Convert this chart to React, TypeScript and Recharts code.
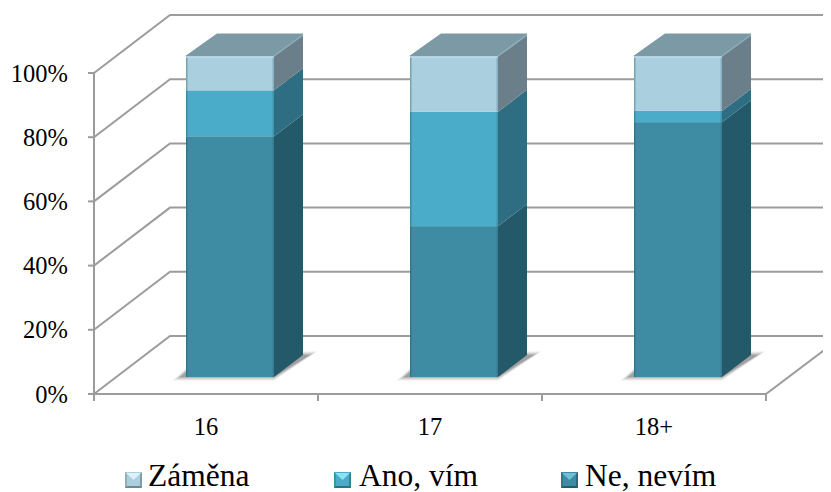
import { Bar, BarChart, CartesianGrid, Legend, XAxis, YAxis } from "recharts";

const ages = ["16", "17", "18+"];
const neNevim = [75.0, 47.0, 79.4];
const anoVim = [14.3, 35.6, 3.5];
const zamena = [10.7, 17.4, 17.1];
const percentTicks = [0, 20, 40, 60, 80, 100];

const rows = ages.map((age, i) => ({
  age,
  ne: neNevim[i],
  ano: anoVim[i],
  zam: zamena[i],
}));

const AXIS = "#9c9c9c";

// depth of the chart box, and of each column inside it
const WALL_DX = 76;
const WALL_DY = 58;
const SHIFT_X = 24;
const SHIFT_Y = 17;
const BOX_DX = 29;
const BOX_DY = 22;

const palette = {
  ne: { front: "#3e8ba4", side: "#24596a", light: "#6fc0d6" },
  ano: { front: "#4aacc8", side: "#2f6e82", light: "#86e4f4" },
  zam: { front: "#aacfdf", side: "#6b7f8a", light: "#dcf2f8" },
};

type Colors = { front: string; side: string };

// floor shadow: nested translucent outlines, wider ones fainter
const shadowSteps = [
  { spread: 8, opacity: 0.06 },
  { spread: 6, opacity: 0.1 },
  { spread: 4, opacity: 0.14 },
  { spread: 2, opacity: 0.18 },
  { spread: 0, opacity: 0.24 },
];

function makeColumn(colors: Colors, base: boolean, cap: boolean) {
  return function Column(props: any) {
    const { height, width } = props;
    const x = props.x + SHIFT_X;
    const y = props.y - SHIFT_Y;
    const right = x + width;
    const bottom = y + height;
    return (
      <g>
        {base &&
          shadowSteps.map((s) => (
            <polygon
              key={s.spread}
              points={`${x - 6 - s.spread},${bottom + s.spread / 2} ${right},${bottom + s.spread / 2} ${right + BOX_DX + 7 + s.spread},${bottom - BOX_DY - s.spread / 2} ${right},${bottom - BOX_DY - s.spread / 2} ${x},${bottom - 5 - s.spread / 2}`}
              fill="#555"
              opacity={s.opacity}
            />
          ))}
        <polygon
          points={`${right},${y} ${right + BOX_DX},${y - BOX_DY} ${right + BOX_DX},${bottom - BOX_DY} ${right},${bottom}`}
          fill={colors.side}
        />
        <rect x={x} y={y} width={width} height={height} fill={colors.front} />
        {/* soft bevel down both edges of the front face */}
        <rect x={x} y={y} width={1.5} height={height} fill="#1f4f60" opacity={0.35} />
        <rect x={right - 1.5} y={y} width={1.5} height={height} fill="#1f4f60" opacity={0.25} />
        {cap && (
          <g>
            <polygon
              points={`${x},${y} ${x + BOX_DX + 2},${y - BOX_DY} ${right + BOX_DX},${y - BOX_DY} ${right},${y}`}
              fill="#7c9aa6"
              stroke="#7c9aa6"
              strokeWidth={1}
              strokeLinejoin="round"
            />
            <polyline
              points={`${right},${y} ${right + BOX_DX},${y - BOX_DY + 1}`}
              stroke="#8fb0bb"
              strokeWidth={1.5}
              fill="none"
            />
            <rect x={x} y={y} width={width} height={2} fill="#c0e0ec" opacity={0.7} />
          </g>
        )}
      </g>
    );
  };
}

// each horizontal grid line folds back along the side wall to the rear wall
function WallLine(props: any) {
  const { x1, x2, y1, index } = props;
  const backY = y1 - WALL_DY;
  const isFloor = Math.abs(y1 - 394) < 1;
  return (
    <g key={`wall-${index}`} fill="none" stroke={AXIS} strokeWidth={2}>
      <polyline points={`${x1},${y1} ${x1 + WALL_DX},${backY} 831,${backY}`} />
      {isFloor && <polyline points={`${x1},${y1} ${x2},${y1} 831,${y1 - 49}`} />}
    </g>
  );
}

function AgeTick(props: any) {
  const { x, payload, index } = props;
  const half = 112;
  return (
    <g>
      <line x1={x - half} x2={x - half} y1={394} y2={401} stroke={AXIS} strokeWidth={2} />
      {index === ages.length - 1 && (
        <line x1={x + half} x2={x + half} y1={394} y2={401} stroke={AXIS} strokeWidth={2} />
      )}
      <text x={x} y={435} textAnchor="middle" fontFamily="Liberation Serif" fontSize={24.5} fill="#000">
        {payload.value}
      </text>
    </g>
  );
}

function BevelIcon({ color, light }: { color: string; light: string }) {
  return (
    <svg width={17} height={16} style={{ position: "absolute", left: 0, top: 0 }}>
      <rect x={0} y={0} width={17} height={16} fill={color} />
      <polygon points="1,1 16,1 8.5,8" fill={light} />
      <polygon points="0,0 2,2 2,14 0,16" fill="#000" opacity={0.15} />
      <polygon points="17,0 15,2 15,14 17,16" fill="#000" opacity={0.25} />
      <polygon points="0,16 2,14 15,14 17,16" fill="#000" opacity={0.35} />
    </svg>
  );
}

const legendItems = [
  { key: "zam", label: "Záměna", icon: 125, text: 148 },
  { key: "ano", label: "Ano, vím", icon: 334, text: 359 },
  { key: "ne", label: "Ne, nevím", icon: 561, text: 585 },
] as const;

function ChartLegend() {
  return (
    <div style={{ position: "relative", width: 831, height: 48 }}>
      {legendItems.map((item) => (
        <div key={item.key}>
          <div style={{ position: "absolute", left: item.icon, top: 28 }}>
            <BevelIcon color={palette[item.key].front} light={palette[item.key].light} />
          </div>
          <span
            style={{
              position: "absolute",
              left: item.text,
              top: 16,
              fontFamily: "Liberation Serif",
              fontSize: 31.5,
              lineHeight: "32px",
              color: "#000",
              whiteSpace: "nowrap",
            }}
          >
            {item.label}
          </span>
        </div>
      ))}
    </div>
  );
}

export default function App() {
  return (
    <div style={{ width: 831, height: 492, transform: "translate(-8px, -8px)" }}>
      <BarChart
        width={831}
        height={492}
        data={rows}
        barSize={88}
        margin={{ top: 73, right: 65, bottom: 0, left: 0 }}
      >
        <CartesianGrid vertical={false} horizontal={WallLine} />
        <XAxis
          dataKey="age"
          height={50}
          axisLine={{ stroke: AXIS, strokeWidth: 2 }}
          tickLine={false}
          tick={AgeTick}
          interval={0}
        />
        <YAxis
          width={94}
          domain={[0, 100]}
          ticks={percentTicks}
          tickFormatter={(v) => `${v}%`}
          axisLine={{ stroke: AXIS, strokeWidth: 2 }}
          tickLine={{ stroke: AXIS, strokeWidth: 2 }}
          tickSize={6}
          tickMargin={20}
          tick={{ fontFamily: "Liberation Serif", fontSize: 24.5, fill: "#000" }}
        />
        <Legend height={48} verticalAlign="bottom" content={ChartLegend} />
        <Bar dataKey="ne" name="Ne, nevím" stackId="a" isAnimationActive={false} shape={makeColumn(palette.ne, true, false)} />
        <Bar dataKey="ano" name="Ano, vím" stackId="a" isAnimationActive={false} shape={makeColumn(palette.ano, false, false)} />
        <Bar dataKey="zam" name="Záměna" stackId="a" isAnimationActive={false} shape={makeColumn(palette.zam, false, true)} />
      </BarChart>
    </div>
  );
}
